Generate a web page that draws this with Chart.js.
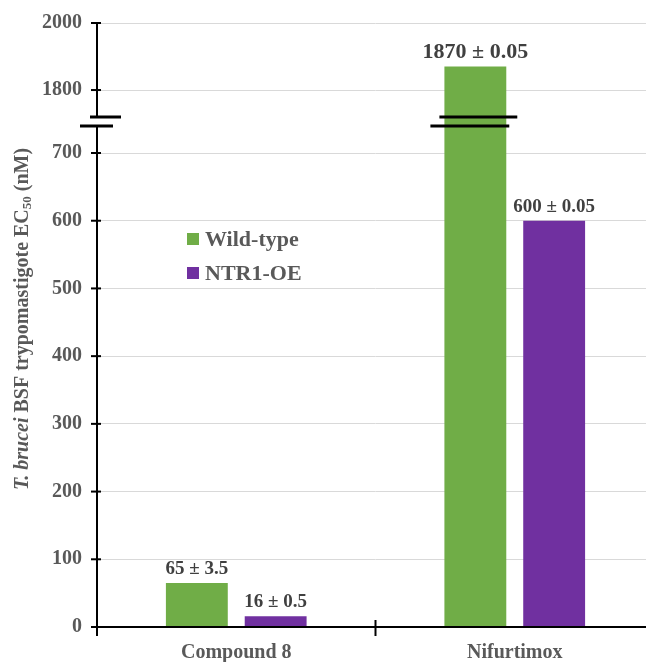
<!DOCTYPE html>
<html>
<head>
<meta charset="utf-8">
<script src="https://cdn.jsdelivr.net/npm/chart.js@4.4.1/dist/chart.umd.min.js"></script>
<style>
  html, body { margin: 0; padding: 0; background: #fff; overflow: hidden; }
  #wrap { width: 660px; height: 662px; }
</style>
</head>
<body>
<div id="wrap"><canvas id="chart" width="660" height="662"></canvas></div>
<script>
// Data
const categories = ['Compound 8', 'Nifurtimox'];
const seriesNames = ['Wild-type', 'NTR1-OE'];
const wildType = [65, 1870];
const wildTypeErr = ['3.5', '0.05'];
const ntr1oe = [16, 600];
const ntr1oeErr = ['0.5', '0.05'];
const yTicks = [0, 100, 200, 300, 400, 500, 600, 700, 1800, 2000];

// Broken axis: 0-700 linear, then 1800-2000 compressed above the break
const breakLow = 700;
const breakHigh = 1800;
const upperStart = 793;
const upperFactor = 0.495;
function toAxis(v) {
    if (v <= breakLow) return v;
    return upperStart + (v - breakHigh) * upperFactor;
}

const FONT = '"Liberation Serif", "Times New Roman", serif';
const GREEN = '#70AD47';
const PURPLE = '#7030A0';
const TEXT = '#595959';

const drawExtras = {
    id: 'drawExtras',
    afterDraw(chart) {
        const ctx = chart.ctx;
        const area = chart.chartArea;
        const ys = chart.scales.y;
        const xs = chart.scales.x;
        ctx.save();

        // axis lines
        ctx.strokeStyle = '#000';
        ctx.lineWidth = 2;
        ctx.beginPath();
        ctx.moveTo(area.left, area.top);
        ctx.lineTo(area.left, area.bottom + 9);
        ctx.moveTo(area.left - 6, area.bottom);
        ctx.lineTo(area.right, area.bottom);
        ctx.stroke();

        // y ticks crossing the axis
        yTicks.forEach(v => {
            const y = ys.getPixelForValue(toAxis(v));
            ctx.beginPath();
            ctx.moveTo(area.left - 6, y);
            ctx.lineTo(area.left + 4, y);
            ctx.stroke();
        });

        // x tick between categories
        const midX = (xs.getPixelForTick(0) + xs.getPixelForTick(1)) / 2;
        ctx.beginPath();
        ctx.moveTo(midX, area.bottom - 7);
        ctx.lineTo(midX, area.bottom + 9);
        ctx.stroke();

        // break marks
        const midY = ys.getPixelForValue((breakLow + upperStart) / 2);
        const y1 = midY - 4.5, y2 = midY + 4.5;
        ctx.fillStyle = '#fff';
        ctx.fillRect(area.left - 2, y1, 4, y2 - y1);
        ctx.lineWidth = 3;
        ctx.beginPath();
        ctx.moveTo(area.left - 7, y1);
        ctx.lineTo(area.left + 24, y1);
        ctx.moveTo(area.left - 17, y2);
        ctx.lineTo(area.left + 16, y2);
        ctx.stroke();

        chart.data.datasets.forEach((ds, di) => {
            const meta = chart.getDatasetMeta(di);
            meta.data.forEach((bar, i) => {
                if (ds.raw[i] > breakLow) {
                    const l = bar.x - bar.width / 2, r = bar.x + bar.width / 2;
                    ctx.beginPath();
                    ctx.moveTo(l - 5, y1);
                    ctx.lineTo(r + 11, y1);
                    ctx.moveTo(l - 14, y2);
                    ctx.lineTo(r + 3, y2);
                    ctx.stroke();
                }
            });
        });

        // value labels
        ctx.fillStyle = '#404040';
        ctx.textAlign = 'center';
        ctx.textBaseline = 'alphabetic';
        chart.data.datasets.forEach((ds, di) => {
            const meta = chart.getDatasetMeta(di);
            meta.data.forEach((bar, i) => {
                const big = ds.raw[i] > breakLow;
                ctx.font = 'bold ' + (big ? 22 : 19) + 'px ' + FONT;
                ctx.fillText(ds.raw[i] + ' \u00b1 ' + ds.err[i], bar.x, bar.y - 9);
            });
        });

        // legend
        const legendItems = [[GREEN, seriesNames[0], 239], [PURPLE, seriesNames[1], 273]];
        ctx.textAlign = 'left';
        ctx.textBaseline = 'middle';
        ctx.font = 'bold 22px ' + FONT;
        legendItems.forEach(([c, t, y]) => {
            ctx.fillStyle = c;
            ctx.fillRect(187, y - 6, 12, 12);
            ctx.fillStyle = TEXT;
            ctx.fillText(t, 205, y + 1);
        });

        // y title with italic species name and subscript
        const parts = [
            { t: 'T. brucei', f: 'italic bold 20px ' + FONT, dy: 0 },
            { t: ' BSF trypomastigote EC', f: 'bold 20px ' + FONT, dy: 0 },
            { t: '50', f: 'bold 13px ' + FONT, dy: 5 },
            { t: ' (nM)', f: 'bold 20px ' + FONT, dy: 0 }
        ];
        let total = 0;
        parts.forEach(p => { ctx.font = p.f; p.w = ctx.measureText(p.t).width; total += p.w; });
        ctx.translate(23, 319);
        ctx.rotate(-Math.PI / 2);
        ctx.fillStyle = TEXT;
        let x = -total / 2;
        parts.forEach(p => {
            ctx.font = p.f;
            ctx.fillText(p.t, x, p.dy);
            x += p.w;
        });

        ctx.restore();
    }
};

new Chart(document.getElementById('chart'), {
    type: 'bar',
    data: {
        labels: categories,
        datasets: [
            {
                label: seriesNames[0],
                data: wildType.map(toAxis),
                raw: wildType,
                err: wildTypeErr,
                backgroundColor: GREEN,
                categoryPercentage: 0.566,
                barPercentage: 0.785
            },
            {
                label: seriesNames[1],
                data: ntr1oe.map(toAxis),
                raw: ntr1oe,
                err: ntr1oeErr,
                backgroundColor: PURPLE,
                categoryPercentage: 0.566,
                barPercentage: 0.785
            }
        ]
    },
    options: {
        responsive: false,
        animation: false,
        layout: { padding: { top: 23, right: 6, left: 0, bottom: 0 } },
        plugins: {
            legend: { display: false },
            tooltip: { enabled: false }
        },
        scales: {
            x: {
                grid: { display: false },
                border: { display: false },
                ticks: {
                    color: TEXT,
                    padding: 6,
                    font: { family: FONT, size: 20, weight: 'bold' }
                },
                afterFit: s => { s.height = 35; s.paddingLeft = 0; s.paddingRight = 0; }
            },
            y: {
                min: 0,
                max: toAxis(2000),
                afterBuildTicks: s => { s.ticks = yTicks.map(v => ({ value: toAxis(v), label: String(v) })); },
                grid: { color: '#d9d9d9', lineWidth: 1, drawTicks: false },
                border: { display: false },
                ticks: {
                    color: TEXT,
                    padding: 15,
                    font: { family: FONT, size: 20, weight: 'bold' },
                    callback: function(value, index) { return String(yTicks[index]); }
                },
                afterFit: s => { s.width = 97; s.paddingTop = 0; s.paddingBottom = 0; }
            }
        }
    },
    plugins: [drawExtras]
});
</script>
</body>
</html>
